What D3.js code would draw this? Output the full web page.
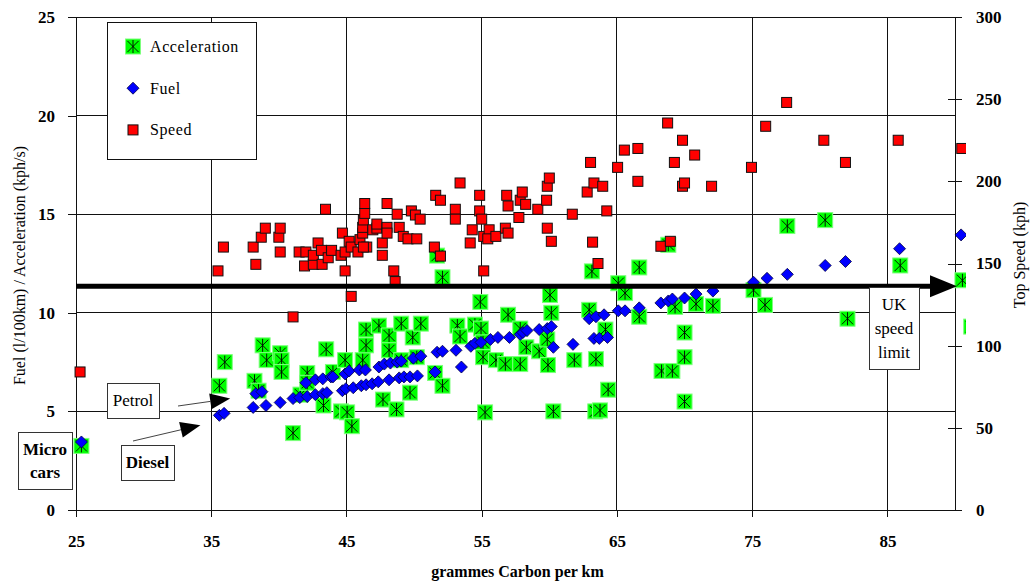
<!DOCTYPE html>
<html>
<head>
<meta charset="utf-8">
<script src="https://cdn.jsdelivr.net/npm/d3@7"></script>
<style>
  html, body { margin: 0; padding: 0; background: #fff; }
  svg { display: block; }
  svg text { font-family: "Liberation Serif", "Times New Roman", serif; }
</style>
</head>
<body>
<div id="chart"></div>
<script>
// Axis ticks
const xTicks = [25, 35, 45, 55, 65, 75, 85];
const leftTicks = [0, 5, 10, 15, 20, 25];
const rightTicks = [0, 50, 100, 150, 200, 250, 300];
const seriesNames = ['Acceleration', 'Fuel', 'Speed'];

// [grammes carbon per km, acceleration kph/s]
const accelData = [
  [25.4, 3.25], [35.6, 6.3], [36.0, 7.5], [38.2, 6.55], [38.5, 6.05], [38.8, 8.35], [39.1, 7.6],
  [40.1, 7.95], [40.2, 7.6], [40.2, 7.0], [41.05, 3.9], [41.6, 5.85], [42.1, 6.95], [42.1, 6.45],
  [43.3, 5.3], [43.5, 8.15], [44.0, 7.0], [44.6, 5.0], [44.9, 7.6], [45.05, 4.95], [45.4, 4.25],
  [46.2, 7.6], [46.45, 8.35], [46.45, 9.15], [47.4, 9.35], [47.7, 5.6], [48.15, 8.85], [48.15, 8.1],
  [48.7, 5.1], [49.05, 9.45], [49.05, 7.6], [49.7, 5.95], [49.9, 8.75], [50.2, 7.75], [50.5, 9.45],
  [51.55, 6.95], [51.7, 12.9], [52.1, 11.8], [52.1, 6.3], [53.2, 9.35], [53.4, 8.8], [54.5, 9.4],
  [54.9, 10.55], [54.95, 9.2], [55.1, 8.5], [55.1, 7.75], [55.25, 4.95], [56.05, 7.6], [56.75, 7.4],
  [56.95, 9.9], [57.85, 7.4], [57.85, 9.2], [58.3, 8.25], [59.25, 8.05], [59.85, 8.65], [59.9, 7.35],
  [60.05, 10.9], [60.15, 10.0], [60.3, 5.0], [61.85, 7.6], [62.95, 10.15], [63.15, 12.1], [63.4, 5.0],
  [63.75, 5.05], [63.45, 7.65], [64.15, 9.15], [64.35, 6.1], [65.1, 11.5], [65.6, 11.0], [66.65, 12.3],
  [66.65, 9.8], [68.3, 7.05], [68.8, 13.45], [69.1, 7.05], [69.3, 10.3], [70.0, 9.0], [70.0, 7.75],
  [70.0, 5.5], [70.85, 10.45], [72.1, 10.35], [75.1, 11.15], [75.95, 10.4], [77.6, 14.4], [80.4, 14.7],
  [82.05, 9.7], [85.95, 12.4], [90.55, 11.65], [91.2, 9.3]
];

// [grammes carbon per km, fuel l/100km]
const fuelData = [
  [25.4, 3.45], [35.6, 4.8], [35.95, 4.9], [38.1, 5.2], [38.3, 5.9], [38.75, 6.0], [39.05, 5.3],
  [40.1, 5.45], [41.05, 5.65], [41.55, 5.7], [42.0, 6.45], [42.1, 5.75], [42.7, 5.85], [42.7, 6.6],
  [43.25, 5.9], [43.25, 6.65], [43.55, 5.95], [43.85, 6.75], [44.0, 6.75], [44.7, 6.05], [44.9, 6.9],
  [44.95, 6.15], [45.2, 7.05], [45.5, 6.2], [45.95, 7.1], [46.1, 6.3], [46.4, 7.1], [46.45, 6.35],
  [46.9, 6.4], [47.35, 6.5], [47.4, 7.25], [47.8, 7.4], [48.15, 6.6], [48.25, 7.45], [48.75, 7.5],
  [48.9, 6.7], [49.05, 7.55], [49.25, 6.75], [49.7, 6.75], [49.95, 7.7], [50.25, 6.8], [50.5, 7.8],
  [51.55, 7.0], [51.7, 8.0], [52.1, 8.05], [53.1, 8.1], [53.5, 7.25], [54.2, 8.3], [54.5, 8.45],
  [54.95, 8.5], [55.65, 8.65], [56.2, 8.75], [57.05, 8.75], [57.85, 8.9], [58.05, 9.0], [58.35, 9.1],
  [59.25, 9.15], [59.85, 9.2], [60.15, 9.3], [60.3, 8.25], [61.75, 8.4], [62.95, 9.7], [63.3, 8.7],
  [63.45, 9.8], [63.7, 8.7], [64.05, 9.9], [64.3, 8.75], [65.1, 10.1], [65.6, 10.1], [66.65, 10.25],
  [68.25, 10.5], [68.8, 10.6], [69.1, 10.7], [70.0, 10.75], [70.85, 10.95], [72.1, 11.1], [75.1, 11.55],
  [76.1, 11.75], [77.6, 11.95], [80.4, 12.4], [81.9, 12.6], [85.9, 13.25], [90.45, 13.95]
];

// [grammes carbon per km, top speed kph]
const speedData = [
  [25.3, 84], [35.5, 145.5], [35.9, 160], [38.1, 160], [38.3, 149.5], [38.7, 166], [39.0, 171.5],
  [40.0, 166], [40.1, 171.5], [40.1, 157], [41.5, 157], [42.0, 157], [41.9, 148.5], [42.55, 149.5],
  [42.55, 155], [42.9, 162.5], [43.15, 158], [43.2, 149.5], [43.65, 153.5], [43.9, 158], [43.45, 183],
  [44.6, 155], [44.7, 168.5], [44.9, 157], [44.9, 145.5], [45.2, 163.5], [45.35, 160], [45.85, 157],
  [46.0, 164.5], [46.5, 160], [46.25, 160], [46.2, 168.5], [46.2, 172], [46.25, 176.5], [46.35, 180.5],
  [46.35, 186.5], [46.95, 170.5], [47.25, 171.5], [47.25, 174], [47.65, 162.5], [47.65, 155], [48.0, 186.5],
  [48.0, 172], [48.0, 168.5], [48.5, 145.5], [48.6, 139], [48.75, 180], [48.9, 172], [49.2, 166.5],
  [49.55, 165], [50.2, 165], [49.8, 182], [50.1, 179.5], [50.45, 177], [51.6, 191.5], [51.95, 188.5],
  [51.5, 160], [51.95, 154.5], [53.05, 183], [53.05, 177], [53.4, 199], [54.3, 170.5], [54.15, 162.5],
  [45.35, 130], [41.05, 117.5], [54.85, 191.5], [54.85, 182], [55.0, 177], [55.15, 166.5], [55.55, 170.5],
  [55.45, 165], [56.05, 166.5], [55.15, 145.5], [56.75, 171.5], [56.95, 168.5], [56.85, 191.5], [56.95, 185],
  [57.85, 188.5], [58.0, 193.5], [58.25, 186], [57.75, 178], [59.15, 183], [59.8, 188.5], [59.85, 197],
  [60.0, 202], [59.85, 171.5], [60.15, 163.5], [61.7, 180], [63.05, 211.5], [62.8, 193.5], [63.3, 199],
  [63.95, 197], [64.25, 182], [63.2, 163], [63.6, 150], [65.05, 208.5], [65.55, 219], [66.55, 220],
  [66.55, 200], [68.25, 160.5], [68.95, 163.5], [68.75, 235.5], [69.25, 211.5], [69.85, 225], [70.75, 216],
  [69.85, 197], [70.0, 199], [72.0, 197], [74.95, 208.5], [76.0, 233.5], [77.55, 248], [80.3, 225],
  [81.9, 211.5], [85.8, 225], [90.5, 220], [91.25, 230]
];

// UK speed limit line, in left-axis units
const speedLimit = 11.35;

const width = 1031, height = 583;
const margin = { top: 17, right: 76, bottom: 73, left: 76 };
const serif = '"Liberation Serif", "Times New Roman", serif';

const x = d3.scaleLinear().domain([25, 90]).range([margin.left, width - margin.right]);
const yL = d3.scaleLinear().domain([0, 25]).range([height - margin.bottom, margin.top]);
const yR = d3.scaleLinear().domain([0, 300]).range([height - margin.bottom, margin.top]);

const svg = d3.select('#chart').append('svg')
  .attr('width', width)
  .attr('height', height)
  .attr('font-family', serif);

// Gridlines
const grid = svg.append('g').attr('stroke', '#111').attr('shape-rendering', 'crispEdges');
grid.append('g').selectAll('line')
  .data(leftTicks)
  .join('line')
  .attr('x1', x(25)).attr('x2', x(90))
  .attr('y1', d => yL(d)).attr('y2', d => yL(d));
grid.append('g').selectAll('line')
  .data(xTicks.slice(1))
  .join('line')
  .attr('x1', d => x(d)).attr('x2', d => x(d))
  .attr('y1', yL(25)).attr('y2', yL(0));
grid.append('line')
  .attr('x1', x(90)).attr('x2', x(90))
  .attr('y1', yL(25)).attr('y2', yL(0));

function styleAxis(g) {
  g.attr('font-family', serif).attr('font-size', 17).attr('font-weight', 'bold');
  g.selectAll('.tick line').attr('stroke', '#111').attr('shape-rendering', 'crispEdges');
  g.select('.domain').attr('stroke', '#111').attr('shape-rendering', 'crispEdges');
  g.selectAll('.tick text').attr('fill', '#000');
}

// Left axis
svg.append('g')
  .attr('transform', `translate(${x(25)},0)`)
  .call(d3.axisLeft(yL).tickValues(leftTicks).tickSize(8).tickSizeOuter(0).tickPadding(13))
  .call(styleAxis);

// Bottom axis
svg.append('g')
  .attr('transform', `translate(0,${yL(0)})`)
  .call(d3.axisBottom(x).tickValues(xTicks).tickSize(7).tickSizeOuter(0).tickPadding(18))
  .call(styleAxis);

// Right axis (ticks cross the axis line)
const rightAxis = svg.append('g')
  .attr('transform', `translate(${x(90)},0)`)
  .call(d3.axisRight(yR).tickValues(rightTicks).tickSize(7).tickSizeOuter(0).tickPadding(14))
  .call(styleAxis);
rightAxis.selectAll('.tick line').attr('x1', -7).attr('x2', 7);

// Axis titles
svg.append('text')
  .attr('x', (x(25) + x(90)) / 2 + 2)
  .attr('y', 577)
  .attr('text-anchor', 'middle')
  .attr('font-size', 16)
  .attr('font-weight', 'bold')
  .text('grammes Carbon per km');

svg.append('text')
  .attr('transform', `translate(25,${(yL(0) + yL(25)) / 2 + 2}) rotate(-90)`)
  .attr('text-anchor', 'middle')
  .attr('font-size', 16)
  .text('Fuel (l/100km) / Acceleration (kph/s)');

svg.append('text')
  .attr('transform', `translate(1025,255) rotate(-90)`)
  .attr('text-anchor', 'middle')
  .attr('font-size', 16)
  .text('Top Speed (kph)');

// Plot marks, clipped just past the right axis
svg.append('clipPath').attr('id', 'plot-clip')
  .append('rect')
  .attr('x', 0).attr('y', 0)
  .attr('width', x(90) + 11).attr('height', height);

const plot = svg.append('g').attr('clip-path', 'url(#plot-clip)');

function accelMarker(sel) {
  sel.append('rect')
    .attr('x', -7.5).attr('y', -7.5)
    .attr('width', 15).attr('height', 15)
    .attr('fill', '#00ff00')
    .attr('stroke', '#7dff7d')
    .attr('stroke-width', 1);
  sel.append('path')
    .attr('d', 'M0,-6.5V6.5M-5.5,-5.5L5.5,5.5M-5.5,5.5L5.5,-5.5')
    .attr('stroke', '#000')
    .attr('stroke-width', 0.9)
    .attr('fill', 'none');
}

function fuelMarker(sel) {
  sel.append('path')
    .attr('d', 'M0,-6L6,0L0,6L-6,0Z')
    .attr('fill', '#0000ff')
    .attr('stroke', '#000040')
    .attr('stroke-width', 0.8);
}

function speedMarker(sel) {
  sel.append('rect')
    .attr('x', -5).attr('y', -5)
    .attr('width', 10).attr('height', 10)
    .attr('fill', '#ff0000')
    .attr('stroke', '#111')
    .attr('stroke-width', 1);
}

plot.append('g').selectAll('g')
  .data(accelData)
  .join('g')
  .attr('transform', d => `translate(${x(d[0])},${yL(d[1])})`)
  .call(accelMarker);

plot.append('g').selectAll('g')
  .data(fuelData)
  .join('g')
  .attr('transform', d => `translate(${x(d[0])},${yL(d[1])})`)
  .call(fuelMarker);

plot.append('g').selectAll('g')
  .data(speedData)
  .join('g')
  .attr('transform', d => `translate(${x(d[0])},${yR(d[1])})`)
  .call(speedMarker);

// Speed limit arrow
const limitY = yL(speedLimit);
svg.append('line')
  .attr('x1', x(25)).attr('x2', x(90) - 22)
  .attr('y1', limitY).attr('y2', limitY)
  .attr('stroke', '#000')
  .attr('stroke-width', 5);
svg.append('path')
  .attr('d', `M${x(90) - 25},${limitY - 11}L${x(90) + 2},${limitY}L${x(90) - 25},${limitY + 11}Z`)
  .attr('fill', '#000');

// Text boxes
function textBox(bx, by, bw, bh, lines, opts = {}) {
  const g = svg.append('g');
  g.append('rect')
    .attr('x', bx).attr('y', by)
    .attr('width', bw).attr('height', bh)
    .attr('fill', '#fff')
    .attr('stroke', '#333')
    .attr('stroke-width', 1)
    .attr('shape-rendering', 'crispEdges');
  const lh = opts.lineHeight || 24;
  const top = by + bh / 2 - (lines.length - 1) * lh / 2 + 5.5;
  lines.forEach((t, i) => {
    g.append('text')
      .attr('x', bx + bw / 2)
      .attr('y', top + i * lh)
      .attr('text-anchor', 'middle')
      .attr('font-size', opts.size || 17)
      .attr('font-weight', opts.bold ? 'bold' : 'normal')
      .text(t);
  });
}

function arrow(x1, y1, x2, y2) {
  const len = 20, half = 8;
  const ang = Math.atan2(y2 - y1, x2 - x1);
  const bx = x2 - len * Math.cos(ang), by = y2 - len * Math.sin(ang);
  svg.append('line')
    .attr('x1', x1).attr('y1', y1)
    .attr('x2', bx).attr('y2', by)
    .attr('stroke', '#444')
    .attr('stroke-width', 1);
  const px = -Math.sin(ang) * half, py = Math.cos(ang) * half;
  svg.append('path')
    .attr('d', `M${x2},${y2}L${bx + px},${by + py}L${bx - px},${by - py}Z`)
    .attr('fill', '#000');
}

textBox(869, 287, 50, 82, ['UK', 'speed', 'limit']);
textBox(107, 383, 52, 35, ['Petrol']);
textBox(121, 445, 53, 35, ['Diesel'], { bold: true });
textBox(18, 432, 54, 57, ['Micro', 'cars'], { bold: true, lineHeight: 23 });

arrow(178, 406, x(36.4), yL(5.65));
arrow(133, 441, x(34.2), yL(4.3));

// Legend
const legend = svg.append('g');
legend.append('rect')
  .attr('x', 107).attr('y', 22)
  .attr('width', 149).attr('height', 137)
  .attr('fill', '#fff')
  .attr('stroke', '#111')
  .attr('shape-rendering', 'crispEdges');

const legendMarkers = [accelMarker, fuelMarker, speedMarker];
seriesNames.forEach((name, i) => {
  const ly = 46.5 + i * 41.7;
  const item = legend.append('g').attr('transform', `translate(133,${ly})`);
  item.call(legendMarkers[i]);
  legend.append('text')
    .attr('x', 150)
    .attr('y', ly + 5.5)
    .attr('font-size', 16)
    .style('letter-spacing', '0.6px')
    .text(name);
});
</script>
</body>
</html>
